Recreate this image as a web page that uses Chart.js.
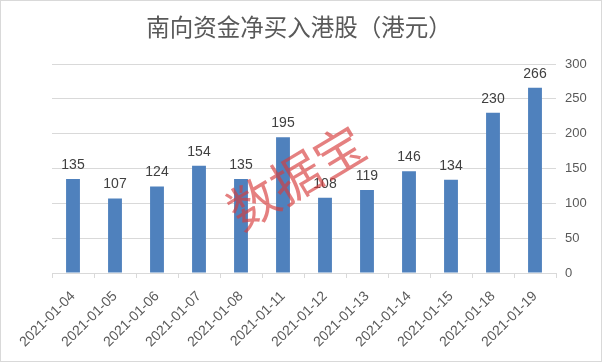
<!DOCTYPE html>
<html>
<head>
<meta charset="utf-8">
<script src="https://cdn.jsdelivr.net/npm/chart.js@4.4.0/dist/chart.umd.min.js"></script>
<style>
  html, body { margin: 0; padding: 0; background: #fff; }
  #wrap { width: 602px; height: 362px; }
</style>
</head>
<body>
<div id="wrap"><canvas id="c" width="602" height="362"></canvas></div>
<script>
const dates = ["2021-01-04", "2021-01-05", "2021-01-06", "2021-01-07", "2021-01-08", "2021-01-11",
  "2021-01-12", "2021-01-13", "2021-01-14", "2021-01-15", "2021-01-18", "2021-01-19"];
const netBuy = [135, 107, 124, 154, 135, 195, 108, 119, 146, 134, 230, 266];
const yTicks = [0, 50, 100, 150, 200, 250, 300];
const titleText = "南向资金净买入港股（港元）";

// value labels above bars
const barLabels = {
  id: "barLabels",
  afterDatasetsDraw(chart) {
    const ctx = chart.ctx;
    const meta = chart.getDatasetMeta(0);
    ctx.save();
    ctx.font = "14px 'Liberation Sans', Arial, sans-serif";
    ctx.fillStyle = "#404040";
    ctx.textAlign = "center";
    ctx.textBaseline = "bottom";
    meta.data.forEach((bar, i) => {
      ctx.fillText(netBuy[i], bar.x, bar.y - 7);
    });
    ctx.restore();
  }
};

// title, watermark, outer border
const extras = {
  id: "extras",
  afterDraw(chart) {
    const ctx = chart.ctx;
    ctx.save();
    ctx.font = "23.5px 'Noto Sans CJK SC', sans-serif";
    ctx.fillStyle = "#595959";
    ctx.textAlign = "center";
    ctx.textBaseline = "middle";
    ctx.fillText(titleText, 299, 27);
    ctx.restore();

    ctx.save();
    ctx.translate(296, 177);
    ctx.rotate(-31 * Math.PI / 180);
    ctx.font = "50px 'Noto Sans CJK SC', sans-serif";
    ctx.fillStyle = "rgba(215, 60, 60, 0.65)";
    ctx.textAlign = "center";
    ctx.textBaseline = "middle";
    ctx.fillText("数据宝", 0, 0);
    ctx.restore();

    ctx.save();
    ctx.strokeStyle = "#d9d9d9";
    ctx.lineWidth = 1;
    ctx.strokeRect(0.5, 0.5, chart.width - 1, chart.height - 1);
    ctx.restore();
  }
};

new Chart(document.getElementById("c"), {
  type: "bar",
  data: {
    labels: dates,
    datasets: [{
      data: netBuy,
      backgroundColor: "#4f81bd",
      barPercentage: 0.66,
      categoryPercentage: 0.5
    }]
  },
  options: {
    responsive: false,
    animation: false,
    layout: { padding: { left: 52, right: 0, top: 64, bottom: 0 } },
    plugins: {
      legend: { display: false },
      tooltip: { enabled: false },
      title: { display: false }
    },
    scales: {
      x: {
        afterFit(axis) { axis.height = 89; },
        grid: {
          offset: true,
          drawOnChartArea: false,
          drawTicks: true,
          tickLength: 5,
          color: "#d9d9d9"
        },
        border: { color: "#d9d9d9" },
        ticks: {
          color: "#595959",
          font: { size: 14, family: "'Liberation Sans', Arial, sans-serif" },
          minRotation: 45,
          maxRotation: 45,
          autoSkip: false,
          padding: 10
        }
      },
      y: {
        position: "right",
        min: 0,
        max: 300,
        afterFit(axis) { axis.width = 46; },
        afterBuildTicks(axis) { axis.ticks = yTicks.map(v => ({ value: v })); },
        grid: { color: "#d9d9d9", drawTicks: false },
        border: { display: false },
        ticks: {
          color: "#595959",
          font: { size: 13, family: "'Liberation Sans', Arial, sans-serif" },
          padding: 9
        }
      }
    }
  },
  plugins: [barLabels, extras]
});
</script>
</body>
</html>
